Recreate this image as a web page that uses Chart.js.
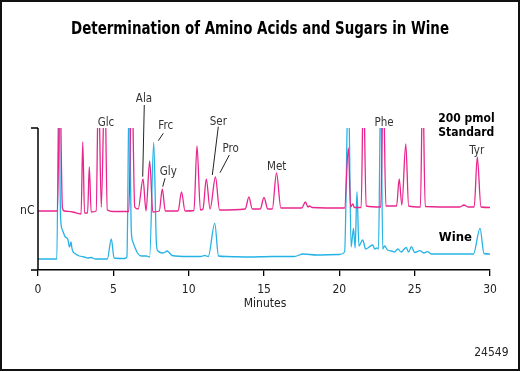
<!DOCTYPE html>
<html>
<head>
<meta charset="utf-8">
<script src="https://cdn.jsdelivr.net/npm/chart.js@4.4.1/dist/chart.umd.min.js"></script>
<style>
  html, body { margin: 0; padding: 0; background: #fff; }
  #wrap { position: relative; width: 520px; height: 372px; }
</style>
</head>
<body>
<div id="wrap"><canvas id="c" width="520" height="372"></canvas></div>
<script>
// ---- Data (retention time in minutes, detector response in arbitrary nC units) ----
const xTicks = [0, 5, 10, 15, 20, 25, 30];

const standardTimes = [0, 1.29, 1.45, 1.62, 1.75, 2.3, 2.86, 2.97, 3.09, 3.29, 3.405, 3.53, 3.86, 4.015, 4.2, 4.43, 4.6, 5.0,
  6.03, 6.22, 6.42, 6.65, 6.97, 7.17, 7.414, 7.62, 8.05, 8.25, 8.45, 9.3, 9.524, 9.76, 10.35, 10.553, 10.78, 10.95,
  11.17, 11.42, 11.78, 12.05, 13.75, 14.0, 14.22, 14.75, 15.0, 15.25, 15.55, 15.83, 16.12, 17.5, 17.75, 17.92, 18.01,
  18.2, 20.35, 20.6, 20.75, 20.89, 21.0, 21.45, 21.6, 21.78, 22.75, 22.918, 23.09, 23.8, 23.973, 24.15, 24.41, 24.6,
  25.38, 25.533, 25.7, 28.0, 28.27, 28.55, 28.95, 29.157, 29.4, 30];
const standardValues = [59, 59, 190, 62, 59, 58, 56, 128, 57, 57, 103, 58, 59, 190, 63, 190, 60, 58.5,
  58.5, 200, 63, 61, 91, 59, 109, 58, 59, 81, 59, 59, 78, 59, 59.5, 124, 60, 61,
  91, 61, 93, 60, 61, 73, 61, 61, 72.5, 61, 61, 97, 62, 62, 68, 63, 64,
  62.5, 62, 122, 63, 66, 62.5, 62.5, 190, 64, 63, 190, 64, 64, 91, 65, 126, 64,
  63, 190, 63.5, 63, 65, 63, 63, 113, 63, 62.5];

const wineTimes = [0, 1.25, 1.38, 1.5, 1.62, 1.81, 1.97, 2.03, 2.08, 2.14, 2.19, 2.25, 2.3, 2.5, 2.74, 3.07, 3.3, 3.52,
  3.8, 4.6, 4.865, 5.05, 5.75, 5.9, 6.06, 6.19, 6.3, 6.42, 6.6, 6.86, 7.19, 7.41, 7.68, 7.86, 7.96, 8.3, 8.58, 8.9,
  10.0, 10.8, 11.06, 11.3, 11.73, 11.98, 12.5, 14.0, 15.5, 17.0, 17.6, 18.5, 20.0, 20.35, 20.6, 20.78, 20.94, 21.05,
  21.17, 21.3, 21.55, 21.75, 22.21, 22.35, 22.48, 22.6, 22.75, 22.88, 23.0, 23.2, 23.48, 23.65, 23.89, 24.1, 24.43,
  24.6, 24.78, 25.0, 25.35, 25.6, 25.85, 26.1, 28.9, 29.34, 29.6, 30];
const wineValues = [11, 11, 190, 52, 40, 33, 31, 27, 23, 25, 28, 22, 19, 16, 14, 13, 12, 12.5,
  11, 11, 31, 12, 11.5, 13, 190, 40, 28, 23, 17, 14, 14, 13, 127.7, 26, 19, 17, 19, 14.5,
  13.5, 13.5, 14.5, 13.5, 46.7, 14, 13.5, 13, 13.5, 13.5, 16, 15, 15.5, 18, 190, 23, 41.5, 22,
  78.3, 24, 30, 21, 25, 21, 22, 21, 190, 21, 24, 20, 19, 18, 21, 18, 22.5,
  18, 23.3, 17.5, 19.3, 17, 18.3, 16, 16, 41.7, 16.5, 16];

// Peak labels: text, label time, label value, leader line (t1, v1, t2, v2) or null
const peakLabels = ['Glc', 'Ala', 'Frc', 'Gly', 'Ser', 'Pro', 'Met', 'Phe', 'Tyr'];
const peakLabelT = [4.51, 7.035, 8.476, 8.649, 11.967, 12.79, 15.843, 22.965, 29.117];
const peakLabelV = [147.3, 170.7, 144, 98.3, 148.3, 120.7, 102.7, 146.7, 119];
const leaderLines = [null, [7.055, 165, 6.95, 93.3], [8.317, 136.7, 7.985, 129.3], [8.43, 91.7, 8.277, 83.3],
  [11.967, 143.3, 11.57, 95], [12.697, 115, 12.08, 97.3], null, null, null];

const seriesNames = ['200 pmol Standard', 'Wine'];

// ---- Styling ----
const FONT = '"Liberation Sans Narrow", "DejaVu Sans Condensed", "Roboto Condensed", sans-serif';
const PINK = '#E8268E';
const BLUE = '#27B2E6';

const toPoints = (ts, vs) => ts.map((t, i) => ({ x: t, y: vs[i] }));

const decor = {
  id: 'decor',
  afterDraw(chart) {
    const { ctx, chartArea: a, scales: { x, y } } = chart;
    ctx.save();
    // frame
    ctx.strokeStyle = '#111';
    ctx.lineWidth = 2;
    ctx.strokeRect(1, 1, 518, 369);
    // title
    ctx.fillStyle = '#000';
    ctx.font = 'bold 17px ' + FONT;
    ctx.textAlign = 'center';
    ctx.textBaseline = 'alphabetic';
    ctx.fillText('Determination of Amino Acids and Sugars in Wine', 260, 33.5, 378);
    // y axis line and end ticks
    ctx.strokeStyle = '#000';
    ctx.lineWidth = 1.5;
    ctx.beginPath();
    ctx.moveTo(a.left, a.top); ctx.lineTo(a.left, a.bottom);
    ctx.moveTo(a.left - 7, a.top); ctx.lineTo(a.left, a.top);
    ctx.moveTo(a.left - 7, a.bottom); ctx.lineTo(a.left, a.bottom);
    ctx.stroke();
    // nC
    ctx.fillStyle = '#222';
    ctx.font = '12px ' + FONT;
    ctx.textAlign = 'right';
    ctx.textBaseline = 'middle';
    ctx.fillText('nC', a.left - 3.5, 211);
    // Minutes
    ctx.textAlign = 'center';
    ctx.fillText('Minutes', (a.left + a.right) / 2 + 1, 304);
    // figure number
    ctx.textAlign = 'right';
    ctx.fillText('24549', 508.5, 353);
    // peak labels
    ctx.font = '11.5px ' + FONT;
    ctx.textAlign = 'center';
    ctx.fillStyle = '#333';
    ctx.strokeStyle = '#222';
    ctx.lineWidth = 1;
    peakLabels.forEach((txt, i) => {
      ctx.fillText(txt, x.getPixelForValue(peakLabelT[i]), y.getPixelForValue(peakLabelV[i]));
      const l = leaderLines[i];
      if (l) {
        ctx.beginPath();
        ctx.moveTo(x.getPixelForValue(l[0]), y.getPixelForValue(l[1]));
        ctx.lineTo(x.getPixelForValue(l[2]), y.getPixelForValue(l[3]));
        ctx.stroke();
      }
    });
    // series labels
    ctx.font = 'bold 12px ' + FONT;
    ctx.textAlign = 'left';
    ctx.fillStyle = '#000';
    ctx.fillText('200 pmol', x.getPixelForValue(26.57), y.getPixelForValue(150.7));
    ctx.fillText('Standard', x.getPixelForValue(26.57), y.getPixelForValue(136.7));
    ctx.font = 'bold 13px ' + FONT;
    ctx.fillText('Wine', x.getPixelForValue(26.6), y.getPixelForValue(32.7));
    ctx.restore();
  }
};

new Chart(document.getElementById('c'), {
  type: 'line',
  data: {
    datasets: [
      { label: seriesNames[0], data: toPoints(standardTimes, standardValues), borderColor: PINK, borderWidth: 1.3,
        pointRadius: 0, cubicInterpolationMode: 'monotone', fill: false },
      { label: seriesNames[1], data: toPoints(wineTimes, wineValues), borderColor: BLUE, borderWidth: 1.3,
        pointRadius: 0, cubicInterpolationMode: 'monotone', fill: false }
    ]
  },
  options: {
    responsive: false,
    animation: false,
    parsing: true,
    layout: { padding: { left: 38, right: 30, top: 128, bottom: 0 } },
    plugins: { legend: { display: false }, tooltip: { enabled: false }, title: { display: false } },
    scales: {
      x: {
        type: 'linear', min: 0, max: 30,
        afterBuildTicks: (s) => { s.ticks = xTicks.map(v => ({ value: v })); },
        afterFit: (s) => { s.height = 102; },
        ticks: { color: '#222', font: { family: FONT, size: 12 }, padding: 7, maxRotation: 0 },
        grid: { drawOnChartArea: false, drawTicks: true, tickLength: 6, color: '#000', lineWidth: 1.3 },
        border: { display: true, color: '#000', width: 1.5 }
      },
      y: { type: 'linear', min: 0, max: 142, display: false }
    }
  },
  plugins: [decor]
});
</script>
</body>
</html>
